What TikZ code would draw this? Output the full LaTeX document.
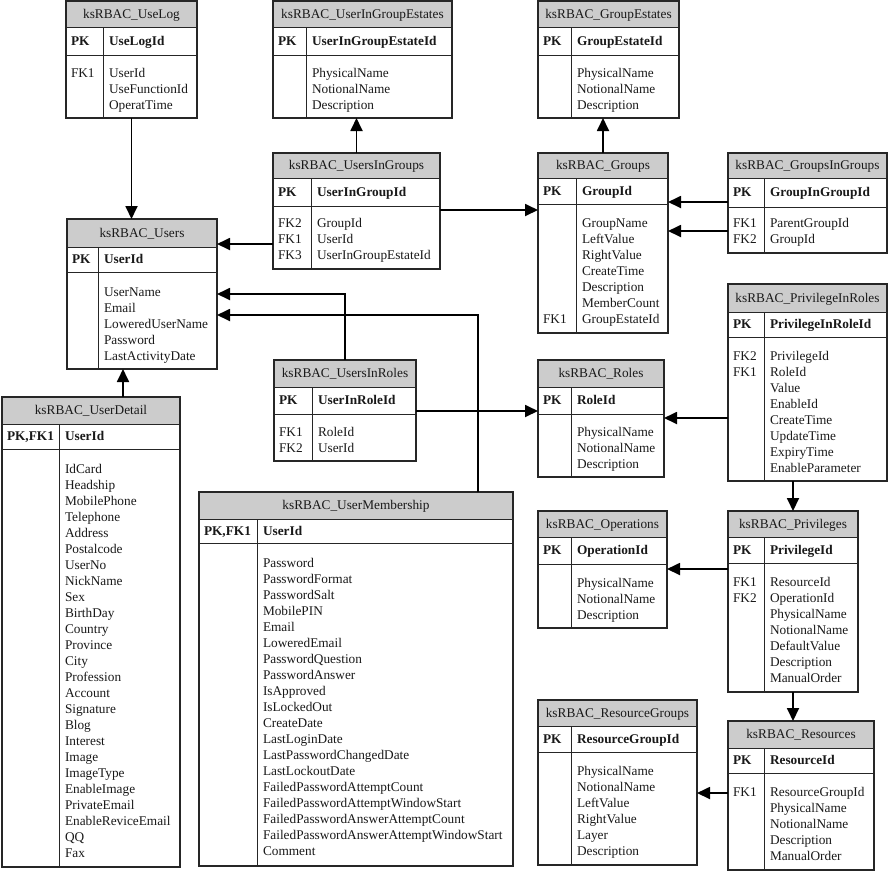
\documentclass[tikz,border=0pt]{standalone}
\usepackage{fontspec}
\setmainfont{Liberation Serif}
\usetikzlibrary{arrows.meta,fit,calc}
\tikzset{
  hdr/.style={fill=black!20},
  tab/.style={draw=black!85, line width=1.1pt, inner sep=0pt, outer sep=0pt, rectangle},
  tabline/.style={draw=black!85, line width=1pt},
  txt/.style={inner sep=0pt, outer sep=0pt, text height=10pt, text depth=1.5pt, font=\fontsize{13.3}{16}\selectfont, text=black!90},
  fld/.style={txt, anchor=west},
  pkf/.style={txt, anchor=west, font=\fontsize{13.3}{16}\selectfont\bfseries},
  ttl/.style={txt, anchor=center},
  conn/.style={line width=1.8pt, draw=black, -{Triangle[length=13pt,width=12pt]}},
  plain/.style={line width=1.8pt, draw=black}
}
% #1 id, #2 x1, #3 y1, #4 x2, #5 yh, #6 yp, #7 y2, #8 xd, #9 title
\newcommand\ertab[9]{%
  \fill[hdr] (#2,#3) rectangle (#4,#5);
  \node[tab, fit={(#2,#3) (#4,#7)}] (#1) {};
  \draw[tabline] (#2,#5) -- (#4,#5) (#2,#6) -- (#4,#6) (#8,#5) -- (#8,#7);
  \node[ttl] (#1-title) at ({(#2+#4)/2},{(#3+#5)/2}) {#9};
}
% #1 id, #2 x1, #3 xd, #4 yh, #5 yp, #6 pk label, #7 pk field
\newcommand\erpk[7]{%
  \node[pkf] (#1-pkl) at (#2+5,{(#4+#5)/2}) {#6};
  \node[pkf] (#1-pk) at (#3+6,{(#4+#5)/2}) {#7};
}
% #1 id, #2 xd, #3 y0, #4 fields
\newcommand\erfields[4]{%
  \foreach \f [count=\i from 0] in {#4} {\node[fld] (#1-f\i) at (#2+6,#3+16*\i) {\f};}
}
% #1 id, #2 x1, #3 y0, #4 key/row list
\newcommand\erkeys[4]{%
  \foreach \k/\r in {#4} {\node[fld] (#1-k\r) at (#2+5,#3+16*\r-16) {\k};}
}
\begin{document}
\begin{tikzpicture}[x=1pt,y=-1pt]
\useasboundingbox[fill=white] (0,0) rectangle (888,871);

% UseLog
\ertab{uselog}{66}{1}{197}{27}{55}{118}{103}{ksRBAC\_UseLog}
\erpk{uselog}{66}{103}{27}{55}{PK}{UseLogId}
\erfields{uselog}{103}{73}{UserId,UseFunctionId,OperatTime}
\erkeys{uselog}{66}{73}{FK1/1}

% UserInGroupEstates
\ertab{uige}{273}{1}{452}{27}{55}{118}{306}{ksRBAC\_UserInGroupEstates}
\erpk{uige}{273}{306}{27}{55}{PK}{UserInGroupEstateId}
\erfields{uige}{306}{73}{PhysicalName,NotionalName,Description}

% GroupEstates
\ertab{ge}{538}{1}{679}{27}{55}{118}{571}{ksRBAC\_GroupEstates}
\erpk{ge}{538}{571}{27}{55}{PK}{GroupEstateId}
\erfields{ge}{571}{73}{PhysicalName,NotionalName,Description}

% UsersInGroups
\ertab{uig}{273}{153}{440}{178}{206}{269}{311}{ksRBAC\_UsersInGroups}
\erpk{uig}{273}{311}{178}{206}{PK}{UserInGroupId}
\erfields{uig}{311}{223}{GroupId,UserId,UserInGroupEstateId}
\erkeys{uig}{273}{223}{FK2/1,FK1/2,FK3/3}

% Groups
\ertab{groups}{538}{153}{668}{178}{204}{333}{576}{ksRBAC\_Groups}
\erpk{groups}{538}{576}{178}{204}{PK}{GroupId}
\erfields{groups}{576}{223}{GroupName,LeftValue,RightValue,CreateTime,Description,MemberCount,GroupEstateId}
\erkeys{groups}{538}{223}{FK1/7}

% GroupsInGroups
\ertab{gig}{728}{153}{887}{178}{207}{253}{764}{ksRBAC\_GroupsInGroups}
\erpk{gig}{728}{764}{178}{207}{PK}{GroupInGroupId}
\erfields{gig}{764}{223}{ParentGroupId,GroupId}
\erkeys{gig}{728}{223}{FK1/1,FK2/2}

% Users
\ertab{users}{67}{219}{217}{247}{272}{369}{98}{ksRBAC\_Users}
\erpk{users}{67}{98}{247}{272}{PK}{UserId}
\erfields{users}{98}{292}{UserName,Email,LoweredUserName,Password,LastActivityDate}

% PrivilegeInRoles
\ertab{pir}{728}{284}{887}{312}{337}{481}{764}{ksRBAC\_PrivilegeInRoles}
\erpk{pir}{728}{764}{312}{337}{PK}{PrivilegeInRoleId}
\erfields{pir}{764}{356}{PrivilegeId,RoleId,Value,EnableId,CreateTime,UpdateTime,ExpiryTime,EnableParameter}
\erkeys{pir}{728}{356}{FK2/1,FK1/2}

% UsersInRoles
\ertab{uir}{274}{360}{416}{387}{414}{461}{312}{ksRBAC\_UsersInRoles}
\erpk{uir}{274}{312}{387}{414}{PK}{UserInRoleId}
\erfields{uir}{312}{432}{RoleId,UserId}
\erkeys{uir}{274}{432}{FK1/1,FK2/2}

% Roles
\ertab{roles}{538}{360}{664}{387}{414}{477}{571}{ksRBAC\_Roles}
\erpk{roles}{538}{571}{387}{414}{PK}{RoleId}
\erfields{roles}{571}{432}{PhysicalName,NotionalName,Description}

% UserDetail
\ertab{detail}{2}{397}{180}{424}{449}{867}{59}{ksRBAC\_UserDetail}
\erpk{detail}{2}{59}{424}{449}{PK,FK1}{UserId}
\erfields{detail}{59}{469}{IdCard,Headship,MobilePhone,Telephone,Address,Postalcode,UserNo,NickName,Sex,BirthDay,Country,Province,City,Profession,Account,Signature,Blog,Interest,Image,ImageType,EnableImage,PrivateEmail,EnableReviceEmail,QQ,Fax}

% UserMembership
\ertab{memb}{199}{492}{513}{519}{543}{866}{257}{ksRBAC\_UserMembership}
\erpk{memb}{199}{257}{519}{543}{PK,FK1}{UserId}
\erfields{memb}{257}{563}{Password,PasswordFormat,PasswordSalt,MobilePIN,Email,LoweredEmail,PasswordQuestion,PasswordAnswer,IsApproved,IsLockedOut,CreateDate,LastLoginDate,LastPasswordChangedDate,LastLockoutDate,FailedPasswordAttemptCount,FailedPasswordAttemptWindowStart,FailedPasswordAnswerAttemptCount,FailedPasswordAnswerAttemptWindowStart,Comment}

% Operations
\ertab{ops}{538}{511}{667}{537}{564}{628}{571}{ksRBAC\_Operations}
\erpk{ops}{538}{571}{537}{564}{PK}{OperationId}
\erfields{ops}{571}{583}{PhysicalName,NotionalName,Description}

% Privileges
\ertab{privs}{728}{511}{858}{537}{563}{692}{764}{ksRBAC\_Privileges}
\erpk{privs}{728}{764}{537}{563}{PK}{PrivilegeId}
\erfields{privs}{764}{582}{ResourceId,OperationId,PhysicalName,NotionalName,DefaultValue,Description,ManualOrder}
\erkeys{privs}{728}{582}{FK1/1,FK2/2}

% ResourceGroups
\ertab{rg}{538}{700}{697}{726}{752}{865}{571}{ksRBAC\_ResourceGroups}
\erpk{rg}{538}{571}{726}{752}{PK}{ResourceGroupId}
\erfields{rg}{571}{771}{PhysicalName,NotionalName,LeftValue,RightValue,Layer,Description}

% Resources
\ertab{res}{728}{721}{874}{748}{773}{870}{764}{ksRBAC\_Resources}
\erpk{res}{728}{764}{748}{773}{PK}{ResourceId}
\erfields{res}{764}{792}{ResourceGroupId,PhysicalName,NotionalName,Description,ManualOrder}
\erkeys{res}{728}{792}{FK1/1}

% connectors
\draw[conn] (uselog.south) -- (uselog.south |- users.north);
\draw[conn] (uig.north) -- (uig.north |- uige.south);
\draw[conn] (groups.north) -- (groups.north |- ge.south);
\draw[conn] (uig.east |- 0,210) -- (groups.west |- 0,210);
\draw[conn] (uig.west |- 0,244) -- (users.east |- 0,244);
\draw[conn] (gig.west |- 0,202) -- (groups.east |- 0,202);
\draw[conn] (gig.west |- 0,231) -- (groups.east |- 0,231);
\draw[conn] (uir.north) |- (users.east |- 0,294);
\draw[conn] (memb.north -| 478,0) |- (users.east |- 0,315);
\draw[conn] (uir.east |- 0,411) -- (roles.west |- 0,411);
\draw[conn] (pir.west |- 0,418) -- (roles.east |- 0,418);
\draw[conn] (pir.south -| privs.north) -- (privs.north);
\draw[conn] (privs.south) -- (privs.south |- res.north);
\draw[conn] (privs.west |- 0,569) -- (ops.east |- 0,569);
\draw[conn] (res.west |- 0,793) -- (rg.east |- 0,793);
\draw[conn] (detail.north -| 123,0) -- (users.south -| 123,0);
\end{tikzpicture}
\end{document}
